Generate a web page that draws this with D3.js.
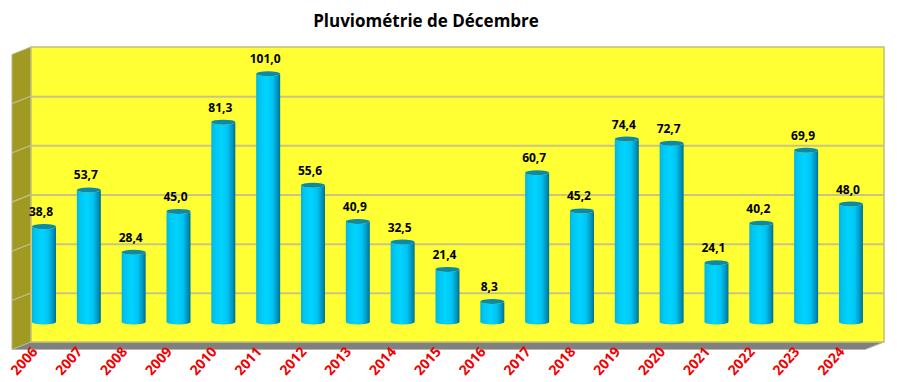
<!DOCTYPE html>
<html><head><meta charset="utf-8">
<script src="https://cdn.jsdelivr.net/npm/d3@7"></script>
<style>html,body{margin:0;padding:0;background:#fff}svg{display:block}</style></head>
<body><div id="chart"></div>
<script>
const years=["2006","2007","2008","2009","2010","2011","2012","2013","2014","2015","2016","2017","2018","2019","2020","2021","2022","2023","2024"];
const rainfall=[38.8,53.7,28.4,45.0,81.3,101.0,55.6,40.9,32.5,21.4,8.3,60.7,45.2,74.4,72.7,24.1,40.2,69.9,48.0];
const gridValues=[0,20,40,60,80,100,120];
const chartTitle="Pluviométrie de Décembre";

const W=897,H=382;
const wall={l:31,r:884,t:47,b:342}, depth={dx:19,dy:7.5};
const svg=d3.select("#chart").append("svg").attr("width",W).attr("height",H);
const fmt=v=>v.toFixed(1).replace(".",",");

const grad=svg.append("defs").append("linearGradient").attr("id","cyl");
[[0,"#00b4e0"],[.12,"#00c4f0"],[.42,"#00d4ff"],[.68,"#00c4f4"],[.88,"#0094bc"],[1,"#006f8f"]]
 .forEach(([o,c])=>grad.append("stop").attr("offset",o).attr("stop-color",c));

const yWall=d3.scaleLinear().domain([0,120]).range([wall.b,wall.t]);
const yBar=d3.scaleLinear().domain([0,120]).range([wall.b-20,wall.t-20]);
const x=d3.scaleBand().domain(years).range([21.6,21.6+44.83*19]).paddingInner(0.465).paddingOuter(0.2325);

svg.append("polygon").attr("fill","#a09a22").attr("stroke","#b5b28a").attr("stroke-width",1)
 .attr("points",[[wall.l-depth.dx,wall.t+depth.dy],[wall.l,wall.t],[wall.l,wall.b],[wall.l-depth.dx,wall.b+depth.dy]].join(" "));
svg.append("polygon").attr("fill","#808080").attr("stroke","#b5b5a5")
 .attr("points",[[wall.l-depth.dx,wall.b+depth.dy],[wall.l,wall.b],[wall.r,wall.b],[wall.r-depth.dx,wall.b+depth.dy]].join(" "));
svg.append("rect").attr("x",wall.l).attr("y",wall.t).attr("width",wall.r-wall.l).attr("height",wall.b-wall.t)
 .attr("fill","#ffff33").attr("stroke","#c2bf78").attr("stroke-width",1.5);

const grid=svg.append("g").attr("transform",`translate(${wall.l},0)`)
 .call(d3.axisRight(yWall).tickValues(gridValues.slice(1,-1)).tickSize(wall.r-wall.l).tickFormat(""));
grid.select(".domain").remove();
grid.selectAll("line").attr("stroke","#c8c488").attr("stroke-width",2);
svg.append("g").selectAll("line").data(gridValues.slice(1,-1)).join("line")
 .attr("x1",wall.l-depth.dx).attr("x2",wall.l)
 .attr("y1",d=>yWall(d)+depth.dy).attr("y2",d=>yWall(d))
 .attr("stroke","#c0bc80").attr("stroke-width",1.5);

const bw=x.bandwidth(), ry=2.5;
const bars=svg.append("g").selectAll("g").data(years.map((y,i)=>({y,v:rainfall[i]}))).join("g");
bars.append("path").attr("fill","url(#cyl)").attr("d",d=>{
  const l=x(d.y),r=l+bw,t=yBar(d.v),b=yBar(0);
  return `M${l},${t}L${l},${b}A${bw/2},${ry} 0 0 0 ${r},${b}L${r},${t}A${bw/2},${ry} 0 0 1 ${l},${t}Z`;
});
bars.append("ellipse").attr("cx",d=>x(d.y)+bw/2).attr("cy",d=>yBar(d.v)).attr("rx",bw/2).attr("ry",ry).attr("fill","#0a8aa8");
bars.append("text").attr("x",d=>x(d.y)+bw/2-3).attr("y",d=>yBar(d.v)-10.5).attr("text-anchor","middle")
 .attr("font-family","'Open Sans',sans-serif").attr("font-weight",700).attr("font-size",12).attr("fill","#000")
 .text(d=>fmt(d.v));

const ax=svg.append("g").attr("transform",`translate(0,${wall.b+depth.dy})`)
 .call(d3.axisBottom(x).tickSize(0).tickPadding(0));
ax.select(".domain").remove();
ax.selectAll("text").attr("font-family","'Open Sans',sans-serif").attr("font-weight",700).attr("font-size",14).attr("fill","#f00000")
 .attr("text-anchor","middle").attr("x",0).attr("y",0).attr("dy","0.35em")
 .attr("transform","translate(-20,11.5) rotate(-48)");

svg.append("text").attr("x",426).attr("y",27).attr("text-anchor","middle")
 .attr("font-family","'Open Sans',sans-serif").attr("font-weight",700).attr("font-size",17).attr("fill","#000").text(chartTitle);
</script></body></html>
